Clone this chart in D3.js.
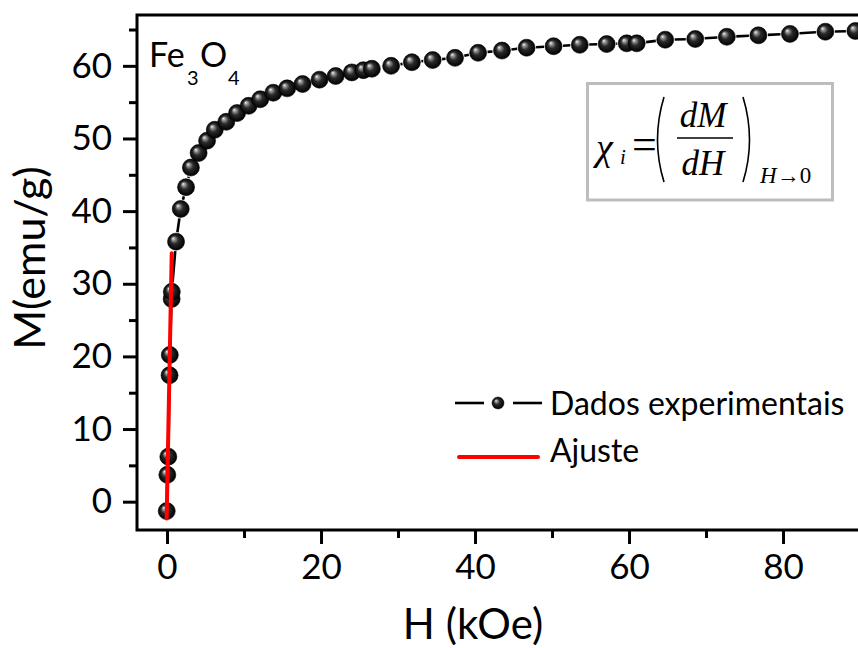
<!DOCTYPE html>
<html>
<head>
<meta charset="utf-8">
<script src="https://cdn.jsdelivr.net/npm/d3@7"></script>
<style>
  html, body { margin: 0; padding: 0; background: #fff; }
  svg { display: block; }
</style>
</head>
<body>
<svg id="chart" width="858" height="648"></svg>
<script>
// Magnetization curve of Fe3O4: measured M(H) points and the low-field linear fit
const fieldH = [-0.04, 0.04, 0.17, 0.33, 0.36, 0.6, 0.62, 1.17, 1.78, 2.47, 3.1, 4.1, 5.2, 6.2,
  7.7, 9.1, 10.6, 12.1, 13.8, 15.6, 17.6, 19.8, 21.9, 24.0, 25.5, 26.6, 29.1, 31.8, 34.5,
  37.4, 40.4, 43.5, 46.7, 50.2, 53.6, 57.1, 59.7, 61.0, 64.7, 68.6, 72.7, 76.8, 80.9, 85.5, 89.4];
const magM = [-1.3, 3.7, 6.2, 17.4, 20.2, 27.9, 28.9, 35.8, 40.3, 43.3, 46.0, 48.0, 49.7, 51.2,
  52.3, 53.5, 54.5, 55.4, 56.3, 56.9, 57.5, 58.1, 58.6, 59.1, 59.4, 59.6, 60.0, 60.5, 60.8,
  61.1, 61.8, 62.1, 62.5, 62.7, 62.9, 63.0, 63.1, 63.1, 63.6, 63.7, 64.0, 64.2, 64.4, 64.7, 64.8];

// Linear fit near H = 0 (end points of the drawn segment)
const fitH = [-0.05, 0.61];
const fitM = [-2.3, 34.2];

const xTicksMajor = [0, 20, 40, 60, 80];
const xTicksMinor = [10, 30, 50, 70, 90];
const yTicksMajor = [0, 10, 20, 30, 40, 50, 60];
const yTicksMinor = [5, 15, 25, 35, 45, 55, 65];

const legendLabels = ["Dados experimentais", "Ajuste"];

const svg = d3.select("#chart");
const plotL = 137, plotT = 15, plotB = 530;

const x = d3.scaleLinear().domain([-3.9, 94]).range([plotL, plotL + 97.9 * 7.7]);
const y = d3.scaleLinear().domain([-3.9, 67]).range([plotB, plotT]);

const FONT = "Lato, 'Open Sans', sans-serif";

// sphere-like marker shading
const defs = svg.append("defs");
const grad = defs.append("radialGradient").attr("id", "ball")
  .attr("cx", "50%").attr("cy", "50%").attr("r", "50%")
  .attr("fx", "32%").attr("fy", "30%");
grad.append("stop").attr("offset", "0%").attr("stop-color", "#f4f4f4");
grad.append("stop").attr("offset", "20%").attr("stop-color", "#909090");
grad.append("stop").attr("offset", "48%").attr("stop-color", "#2a2a2a");
grad.append("stop").attr("offset", "100%").attr("stop-color", "#000");

// axes
const xAxisMajor = d3.axisBottom(x).tickValues(xTicksMajor).tickSize(14).tickPadding(10)
  .tickFormat(d3.format("d"));
const xAxisMinor = d3.axisBottom(x).tickValues(xTicksMinor).tickSize(8).tickFormat("");
const yAxisMajor = d3.axisLeft(y).tickValues(yTicksMajor).tickSize(14).tickPadding(11)
  .tickFormat(d3.format("d"));
const yAxisMinor = d3.axisLeft(y).tickValues(yTicksMinor).tickSize(8).tickFormat("");

function styleAxis(g) {
  g.select(".domain").remove();
  g.selectAll(".tick line").attr("stroke", "#000").attr("stroke-width", 3);
  g.selectAll(".tick text").attr("fill", "#000").style("font-family", FONT).style("font-size", "35px");
}

svg.append("g").attr("transform", `translate(0,${plotB})`).call(xAxisMinor).call(styleAxis);
svg.append("g").attr("transform", `translate(0,${plotB})`).call(xAxisMajor).call(styleAxis);
svg.append("g").attr("transform", `translate(${plotL},0)`).call(yAxisMinor).call(styleAxis);
svg.append("g").attr("transform", `translate(${plotL},0)`).call(yAxisMajor).call(styleAxis);

// frame: left, bottom, top
const frame = svg.append("g").attr("stroke", "#000").attr("stroke-width", 3).attr("fill", "none");
frame.append("path").attr("d", `M${x.range()[1]},${plotT}H${plotL}V${plotB}H${x.range()[1]}`)
  .attr("stroke-linecap", "square");

// axis titles
svg.append("text").attr("x", 473).attr("y", 639).attr("text-anchor", "middle")
  .style("font-family", FONT).style("font-size", "42px").text("H (kOe)");
svg.append("text").attr("transform", "translate(45,258) rotate(-90)").attr("text-anchor", "middle")
  .style("font-family", FONT).style("font-size", "43px").text("M(emu/g)");

// data
const pts = fieldH.map((h, i) => ({ h, m: magM[i], px: x(h), py: y(magM[i]) }));
const R = 8.5, GAP = 9.5;

// connecting line, interrupted around each marker
const segs = [];
for (let i = 0; i < pts.length - 1; i++) {
  const a = pts[i], b = pts[i + 1];
  const dx = b.px - a.px, dy = b.py - a.py, L = Math.hypot(dx, dy);
  if (L > 2 * GAP + 1) {
    const ux = dx / L, uy = dy / L;
    segs.push([a.px + ux * GAP, a.py + uy * GAP, b.px - ux * GAP, b.py - uy * GAP]);
  }
}
svg.append("g").selectAll("line").data(segs).join("line")
  .attr("x1", d => d[0]).attr("y1", d => d[1]).attr("x2", d => d[2]).attr("y2", d => d[3])
  .attr("stroke", "#000").attr("stroke-width", 2.6);

svg.append("g").selectAll("circle").data(pts).join("circle")
  .attr("cx", d => d.px).attr("cy", d => d.py).attr("r", R)
  .attr("fill", "url(#ball)").attr("stroke", "#000").attr("stroke-width", 0.6);

// low-field fit
svg.append("line")
  .attr("x1", x(fitH[0])).attr("y1", y(fitM[0])).attr("x2", x(fitH[1])).attr("y2", y(fitM[1]))
  .attr("stroke", "#ff0000").attr("stroke-width", 4).attr("stroke-linecap", "round");

// sample label Fe3O4
const fe = svg.append("g").style("font-family", FONT).attr("fill", "#000");
fe.append("text").attr("x", 149).attr("y", 67).style("font-size", "34px").text("Fe");
fe.append("text").attr("x", 187).attr("y", 85).style("font-size", "20px").text("3");
fe.append("text").attr("x", 200).attr("y", 67).style("font-size", "34px").text("O");
fe.append("text").attr("x", 228).attr("y", 85).style("font-size", "20px").text("4");

// formula box
const SERIF = "'Liberation Serif', 'DejaVu Serif', serif";
const fb = svg.append("g");
fb.append("rect").attr("x", 587.5).attr("y", 83.5).attr("width", 245).attr("height", 116.5)
  .attr("fill", "#fff").attr("stroke", "#bdbdbd").attr("stroke-width", 3);
const ft = fb.append("g").style("font-family", SERIF).attr("fill", "#000");
ft.append("text").attr("x", 596).attr("y", 160).style("font-size", "38px").style("font-style", "italic").text("χ");
ft.append("text").attr("x", 620).attr("y", 164).style("font-size", "21px").style("font-style", "italic").text("i");
ft.append("text").attr("x", 632).attr("y", 159).style("font-size", "44px").text("=");
ft.append("text").attr("x", 703).attr("y", 127).attr("text-anchor", "middle").style("font-size", "35px").style("font-style", "italic").text("dM");
ft.append("text").attr("x", 703).attr("y", 175).attr("text-anchor", "middle").style("font-size", "35px").style("font-style", "italic").text("dH");
fb.append("line").attr("x1", 677).attr("x2", 733).attr("y1", 138).attr("y2", 138).attr("stroke", "#000").attr("stroke-width", 1.5);
fb.append("path").attr("d", "M664,97 Q651,140 664,182").attr("fill", "none").attr("stroke", "#000").attr("stroke-width", 1.6);
fb.append("path").attr("d", "M743,97 Q756,140 743,182").attr("fill", "none").attr("stroke", "#000").attr("stroke-width", 1.6);
const sub = ft.append("text").attr("x", 760).attr("y", 183).style("font-size", "23px");
sub.append("tspan").style("font-style", "italic").text("H");
sub.append("tspan").text("→0");

// legend
const lg = svg.append("g");
lg.append("line").attr("x1", 455).attr("x2", 484).attr("y1", 403).attr("y2", 403).attr("stroke", "#000").attr("stroke-width", 2.6);
lg.append("line").attr("x1", 513).attr("x2", 542).attr("y1", 403).attr("y2", 403).attr("stroke", "#000").attr("stroke-width", 2.6);
lg.append("circle").attr("cx", 498).attr("cy", 403).attr("r", 6).attr("fill", "url(#ball)").attr("stroke", "#000").attr("stroke-width", 0.5);
lg.append("line").attr("x1", 459).attr("x2", 538).attr("y1", 457).attr("y2", 457).attr("stroke", "#ff0000").attr("stroke-width", 4).attr("stroke-linecap", "round");
lg.selectAll("text.lab").data(legendLabels).join("text").attr("class", "lab")
  .attr("x", 550).attr("y", (d, i) => 415 + i * 47)
  .style("font-family", FONT).style("font-size", "32px").text(d => d);
</script>
</body>
</html>
